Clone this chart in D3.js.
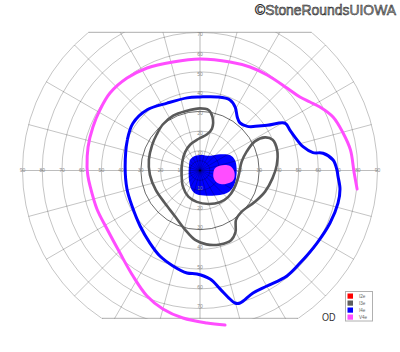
<!DOCTYPE html>
<html>
<head>
<meta charset="utf-8">
<script src="https://cdn.jsdelivr.net/npm/d3@7"></script>
<style>
  body { margin: 0; background: #fff; }
  svg { display: block; background: #fff; }
</style>
</head>
<body>
<svg id="chart" width="400" height="352"></svg>
<script>
// Goldmann field, right eye. Points are [meridian deg (0 = right, counter-clockwise), eccentricity deg]
const i3e = [
  [129, 30], [116, 31], [103, 31], [90, 31.5], [82, 31], [77, 28], [74, 22], [79, 18.7],
  [93, 16], [111, 14], [129, 12], [154, 10], [194, 9.6], [224, 12], [246, 14.5], [264, 16],
  [284, 17.5], [302, 19], [317, 19.6], [332, 19.5], [351, 19.7], [12, 21.6], [22, 25.5],
  [28, 31.5], [27, 37], [23, 40], [15, 40.5], [4, 39], [354, 37], [342, 34.7], [330, 32],
  [315, 29.7], [306, 31], [300, 36], [294, 38.7], [285, 38.8], [275, 37.6], [266, 35.3],
  [256, 31], [242, 26.6], [223, 24.3], [204, 24.5], [185, 25.5], [168, 26.5], [152, 27.5],
  [140, 28.6]
];

const i4e = [
  [177, 38], [157, 40], [145, 41.6], [131, 40.8], [116, 38], [100, 37.4], [90, 37.3],
  [77, 38.3], [67, 38.9], [61, 36.8], [55, 33], [50, 31.5], [43, 32.8], [34, 41], [29, 49.4],
  [24, 50], [17.5, 51.6], [13, 53.6], [9, 58], [8, 63], [4.5, 67.7], [0, 69.5], [357.7, 70],
  [352.5, 71.6], [346.7, 71.9], [338, 71.1], [328.2, 69.8], [317.2, 69.1], [309.5, 69.3],
  [300.1, 67.7], [293.4, 67.7], [286.8, 70.2], [284.8, 69.5], [283.1, 66.9], [279.6, 60.9],
  [275.3, 55.3], [268.3, 52.5], [262.8, 52.4], [254.2, 50.3], [244.9, 47.9], [235.4, 44.7],
  [222.8, 41.4], [207.6, 38.9], [194.2, 38.2]
];

const v4e = [
  [353.3, 80.2], [359.4, 78.1], [7.8, 77], [14.7, 75], [21.9, 72.7], [27.9, 68.8],
  [31.9, 65.7], [36.3, 62.9], [43.5, 60.8], [54.9, 59.2], [64.2, 58.3], [74.5, 57.1],
  [90, 56.5], [104, 56.7], [117.3, 58.5], [128.3, 59.7], [139.3, 60.2], [148.8, 59.3],
  [157.9, 58.6], [168.1, 58], [178.2, 57.3], [182.8, 56.9], [188, 56.3], [200.5, 55.8],
  [212.2, 55.7], [225.9, 58.3], [237.6, 63.4], [247.1, 69.1], [255, 72.7], [263.4, 75.3],
  [272.6, 77.4], [279.2, 79.4]
];

// central filled areas
const i4eArea = [
  [133.6, 7.35], [115.9, 7.8], [90, 7.9], [55.9, 9.1], [39, 13.1], [27.3, 17.1], [16.7, 18.5],
  [3.4, 18.6], [347.8, 18.7], [334.1, 18.8], [322.4, 18.1], [309.2, 16], [284.9, 13.2],
  [262.1, 12.2], [246.9, 10.7], [226.3, 7.9], [186.1, 5.8], [153.4, 6.2]
];
const v4eArea = [
  [8.3, 7.7], [13.5, 10.2], [11.6, 13.6], [6.8, 15.9], [358, 17.4], [347.4, 17.8],
  [339.6, 16.9], [331.1, 14.3], [325, 11.2], [328.7, 8.3], [348.1, 6.9]
];

const rings = [5, 10, 20, 30, 40, 50, 60, 70, 80, 90];
const axisTicks = [10, 20, 30, 40, 50, 60, 70, 80, 90];
const meridians = d3.range(0, 360, 15);
const topLimit = 70;      // field drawn down from 70 above
const bottomLimit = 75;   // and to 75 below
const legendNames = ["I2e", "I3e", "I4e", "V4e"];
const legendColors = ["#ff0000", "#5e5e5e", "#0000ff", "#ff4dff"];

const svg = d3.select("#chart");
const cx = 200, cy = 170.5;

const r = d3.scaleLinear().domain([0, 90]).range([0, 177.5]);
const toRad = a => (90 - a) * Math.PI / 180;

const closedLine = d3.lineRadial()
  .angle(d => toRad(d[0]))
  .radius(d => r(d[1]))
  .curve(d3.curveCatmullRomClosed);

const openLine = d3.lineRadial()
  .angle(d => toRad(d[0]))
  .radius(d => r(d[1]))
  .curve(d3.curveCatmullRom);

const g = svg.append("g").attr("transform", `translate(${cx},${cy})`);

// clip for the grid: 90 circle cut above and below
const defs = svg.append("defs");
const clip = defs.append("clipPath").attr("id", "field-clip");
clip.append("rect")
  .attr("x", -r(90) - 2)
  .attr("y", -r(topLimit))
  .attr("width", 2 * r(90) + 4)
  .attr("height", r(topLimit) + r(bottomLimit));

// filled blue area sits under the grid
g.append("path")
  .datum(i4eArea)
  .attr("d", closedLine)
  .attr("fill", "#0000ff");

const grid = g.append("g").attr("clip-path", "url(#field-clip)");

grid.selectAll("circle.ring")
  .data(rings)
  .enter().append("circle")
  .attr("class", "ring")
  .attr("r", d => r(d))
  .attr("fill", "none")
  .attr("stroke", d => d === 30 ? "rgba(0,0,0,0.58)" : "rgba(0,0,0,0.26)")
  .attr("stroke-width", d => d === 30 ? 1 : 0.9);

grid.selectAll("line.meridian")
  .data(meridians)
  .enter().append("line")
  .attr("class", "meridian")
  .attr("x1", 0).attr("y1", 0)
  .attr("x2", d => r(90) * Math.cos(d * Math.PI / 180))
  .attr("y2", d => -r(90) * Math.sin(d * Math.PI / 180))
  .attr("stroke", "rgba(0,0,0,0.26)")
  .attr("stroke-width", d => d % 90 === 0 ? 1.1 : 0.9);

// top and bottom edges of the chart
[-r(topLimit), r(bottomLimit)].forEach(y => {
  const half = Math.sqrt(r(90) * r(90) - y * y);
  g.append("line")
    .attr("x1", -half).attr("x2", half)
    .attr("y1", y).attr("y2", y)
    .attr("stroke", "rgba(0,0,0,0.26)")
    .attr("stroke-width", 1.2);
});

// axis numbers
const tickFont = "Liberation Sans, Arial, sans-serif";
const hLabels = axisTicks.flatMap(t => [{ x: r(t), y: 0, t }, { x: -r(t), y: 0, t }]);
const vLabels = axisTicks.filter(t => t <= topLimit).map(t => ({ x: 0, y: -r(t) + 2, t }))
  .concat(axisTicks.filter(t => t <= bottomLimit).map(t => ({ x: 0, y: r(t) - 2, t })));

g.selectAll("text.tick")
  .data(hLabels.concat(vLabels))
  .enter().append("text")
  .attr("class", "tick")
  .attr("x", d => d.x)
  .attr("y", d => d.y)
  .attr("dy", "0.35em")
  .attr("text-anchor", "middle")
  .attr("font-family", tickFont)
  .attr("font-size", "5px")
  .attr("fill", "#8a8a8a")
  .text(d => d.t);

// magenta area drawn over the grid
g.append("path")
  .datum(v4eArea)
  .attr("d", closedLine)
  .attr("fill", "#ff4dff");

// isopter lines
g.append("path")
  .datum(i3e)
  .attr("d", closedLine)
  .attr("fill", "none")
  .attr("stroke", "#5a5a5a")
  .attr("stroke-width", 2.6)
  .attr("stroke-linejoin", "round");

g.append("path")
  .datum(i4e)
  .attr("d", closedLine)
  .attr("fill", "none")
  .attr("stroke", "#0000ff")
  .attr("stroke-width", 3)
  .attr("stroke-linejoin", "round");

g.append("path")
  .datum(v4e)
  .attr("d", openLine)
  .attr("fill", "none")
  .attr("stroke", "#ff4dff")
  .attr("stroke-width", 3)
  .attr("stroke-linecap", "round");

// eye label
svg.append("text")
  .attr("x", 322)
  .attr("y", 321)
  .attr("font-family", tickFont)
  .attr("font-size", "11px")
  .attr("textLength", 13.5)
  .attr("lengthAdjust", "spacingAndGlyphs")
  .attr("fill", "#333")
  .text("OD");

// legend
const legend = svg.append("g").attr("transform", "translate(345.5,291.5)");
legend.append("rect")
  .attr("width", 27)
  .attr("height", 29.5)
  .attr("fill", "#fff")
  .attr("stroke", "#b0b0b0")
  .attr("stroke-width", 1);

const row = d3.scaleBand().domain(legendNames).range([1.5, 29.5]);

const items = legend.selectAll("g.item")
  .data(legendNames)
  .enter().append("g")
  .attr("class", "item")
  .attr("transform", d => `translate(0,${row(d)})`);

items.append("rect")
  .attr("x", 2)
  .attr("y", 0.5)
  .attr("width", 5.5)
  .attr("height", 5.2)
  .attr("fill", (d, i) => legendColors[i]);

items.append("text")
  .attr("x", 13.5)
  .attr("y", 3.2)
  .attr("dy", "0.35em")
  .attr("font-family", tickFont)
  .attr("font-size", "4.6px")
  .attr("fill", "#666")
  .text(d => d);

// watermark
svg.append("text")
  .attr("x", 396)
  .attr("y", 15)
  .attr("text-anchor", "end")
  .attr("font-family", "Liberation Sans, Arial, sans-serif")
  .attr("font-size", "13.9px")
  .attr("fill", "#a0a0a0")
  .attr("stroke", "#1c1c1c")
  .attr("stroke-width", 0.5)
  .text("©StoneRoundsUIOWA");
</script>
</body>
</html>
